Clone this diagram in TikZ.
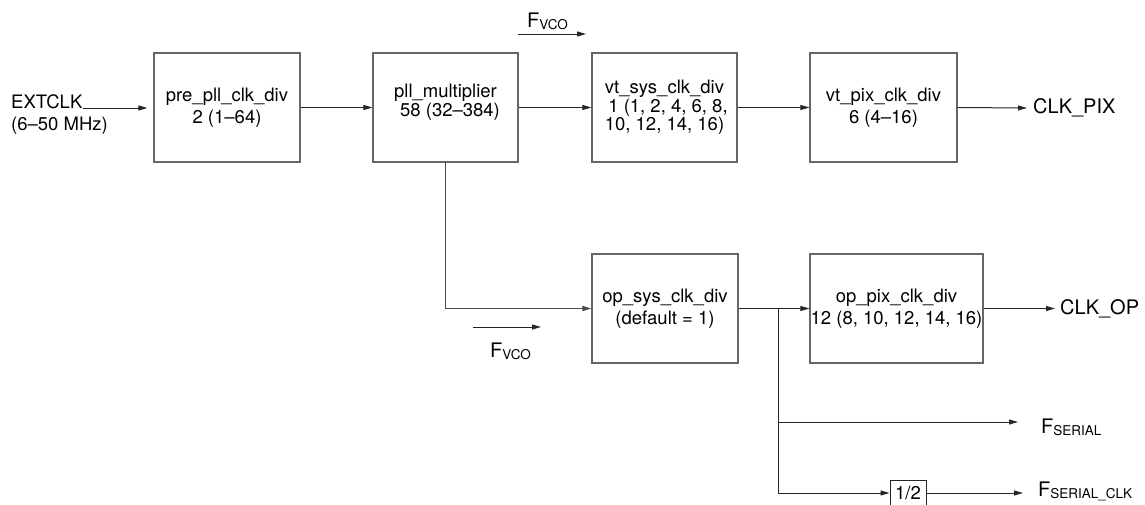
\documentclass[tikz,border=0pt]{standalone}
\usepackage{fontspec}
\setmainfont{TeX Gyre Heros}
\usetikzlibrary{arrows.meta}
\newcommand\subtxt[1]{\raisebox{-2.5pt}{\fontsize{13.5}{13.5}\selectfont #1}}
\begin{document}
\begin{tikzpicture}[x=1pt,y=-1pt,
  box/.style={draw=black!60, line width=1.1pt, inner sep=0pt, minimum width=#1,
    minimum height=109pt, align=center, font=\fontsize{18.5}{24}\selectfont},
  box/.default=146pt,
  lab/.style={inner sep=0pt, font=\fontsize{18.5}{22}\selectfont},
  flab/.style={inner sep=0pt, font=\fontsize{20}{22}\selectfont},
  biglab/.style={inner sep=0pt, font=\fontsize{20}{22}\selectfont},
  arr/.style={draw=black!85, line width=1pt, -{Triangle[length=9pt,width=5pt]}},
  conn/.style={draw=black!85, line width=1pt}]
\useasboundingbox (0,0) rectangle (1145,504);
\fill[white] (0,0) rectangle (1145,504);
\clip (0,0) rectangle (1145,504);

% boxes
\node[box=146pt, font=\fontsize{18.5}{22}\selectfont] (pre) at (227,107.5) {pre\_pll\_clk\_div\\2 (1–64)};
\node[box=145pt] (pll) at (445.5,107.5) {};
\node[inner sep=0pt, align=center, font=\fontsize{18.5}{17}\selectfont] (pllt) at (445.5,102) {pll\_multiplier\\\hspace*{9pt}58 (32–384)};
\node[box=145pt, font=\fontsize{18.5}{16.5}\selectfont] (vtsys) at (664.5,107.5) {vt\_sys\_clk\_div\\\hspace*{7pt}1 (1, 2, 4, 6, 8,\\10, 12, 14, 16)};
\node[box=147pt, font=\fontsize{18.5}{22}\selectfont] (vtpix) at (883.5,107.5) {vt\_pix\_clk\_div\\6 (4–16)};
\node[box=146pt, font=\fontsize{18.5}{22}\selectfont] (opsys) at (665,308.5) {op\_sys\_clk\_div\\(default = 1)};
\node[box=173pt, font=\fontsize{18.5}{22}\selectfont] (oppix) at (896.5,308.5) {op\_pix\_clk\_div\\12 (8, 10, 12, 14, 16)};
\node[draw=black!85, line width=1pt, inner sep=0pt, minimum width=36pt, minimum height=26pt,
  font=\fontsize{18.5}{22}\selectfont] (half) at (908,493) {1/2};

% labels
\node[lab, anchor=base west] (ext) at (11,108) {EXTCLK};
\node[lab, anchor=west] (extf) at (11,126) {(6–50 MHz)};
\node[biglab, anchor=west] (clkpix) at (1033,108) {CLK\_PIX};
\node[biglab, anchor=west] (clkop) at (1060,308.5) {CLK\_OP};
\node[flab, anchor=base west] (fvcoa) at (527,27) {F\subtxt{VCO}};
\node[flab, anchor=base west] (fvcob) at (490,357) {F\subtxt{VCO}};
\node[flab, anchor=base west] (fser) at (1041,433) {F\subtxt{SERIAL}};
\node[flab, anchor=base west] (fserclk) at (1038,496) {F\subtxt{SERIAL\_CLK}};

% coordinates
\coordinate (va1) at (518,34);
\coordinate (va2) at (586,34);
\coordinate (vb1) at (473,327);
\coordinate (vb2) at (541,327);
\coordinate (br) at (778,308.5);
\coordinate (fserend) at (1018,422);
\coordinate (fsclkend) at (1023,493);

% connectors
\draw[arr] (ext.base east) -- ([xshift=-6pt]pre.west |- ext.base);
\draw[arr] (pre.east) -- (pll.west);
\draw[arr] (pll.east) -- (vtsys.west);
\draw[arr] (vtsys.east) -- (vtpix.west);
\draw[arr] (vtpix.east) -- ([xshift=-6pt]clkpix.west);
\draw[arr] (va1) -- (va2);
\draw[arr, line width=1.5pt, draw=black!70] (pll.south) |- (opsys.west);
\draw[arr] (vb1) -- (vb2);
\draw[arr] (opsys.east) -- (oppix.west);
\draw[arr] (oppix.east) -- ([xshift=-5pt]clkop.west);
\draw[arr] (br) |- (fserend);
\draw[arr] (br) |- (half.west);
\draw[arr] (half.east) -- (fsclkend);
\end{tikzpicture}
\end{document}
